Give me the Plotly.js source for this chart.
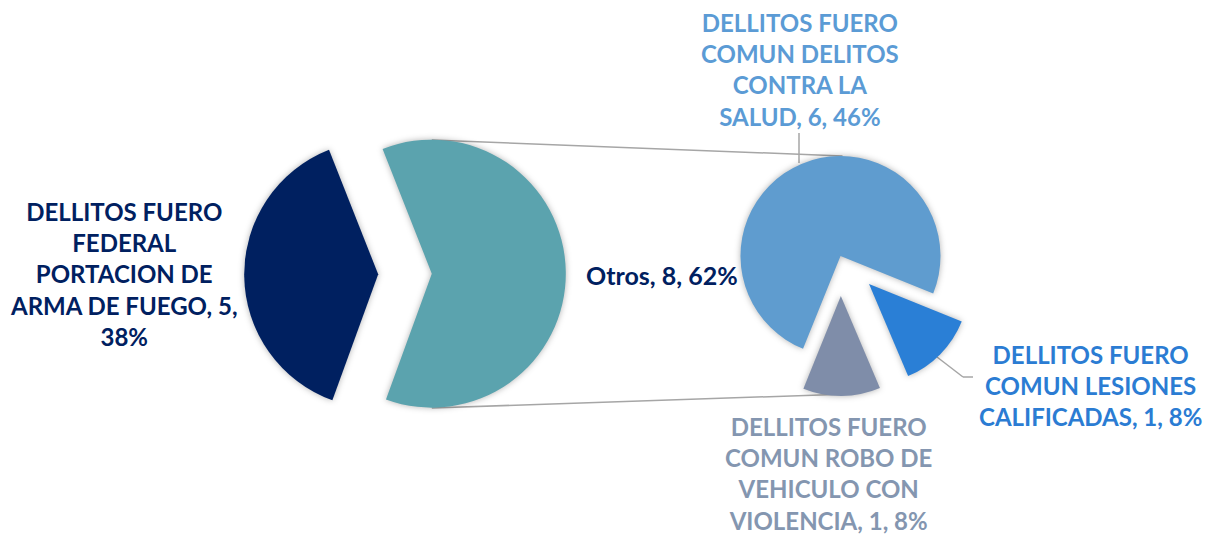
<!DOCTYPE html>
<html>
<head>
<meta charset="utf-8">
<script src="https://cdn.plot.ly/plotly-3.0.1.min.js"></script>
<style>
  html, body { margin: 0; padding: 0; background: #ffffff; }
  #chart { width: 1211px; height: 535px; }
  .slice path.surface { filter: drop-shadow(0px 0px 3px rgba(0,0,0,0.30)); }
</style>
</head>
<body>
<div id="chart"></div>
<script>
// ---- data ----
const primaryLabels = ["DELLITOS FUERO FEDERAL PORTACION DE ARMA DE FUEGO", "Otros"];
const primaryValues = [5, 8];
const secondaryLabels = [
  "DELLITOS FUERO COMUN DELITOS CONTRA LA SALUD",
  "DELLITOS FUERO COMUN LESIONES CALIFICADAS",
  "DELLITOS FUERO COMUN ROBO DE VEHICULO CON VIOLENCIA"
];
const secondaryValues = [6, 1, 1];

// ---- styling / layout ----
const W = 1211, H = 535;
const primaryColors = ["#002060", "#5BA3AE"];
const secondaryColors = ["#5F9CCF", "#2A7FD6", "#7F8DA9"];
const labelColors = { fed: "#002060", otros: "#002060", salud: "#5B9BD5", les: "#2B7CD3", robo: "#8496B0" };
const FONT = "Lato, 'Open Sans', sans-serif";
const FS = 24;

const total = primaryValues.reduce((a, b) => a + b, 0);
const pct = v => Math.round(100 * v / total) + "%";

// pie geometry (pixels)
const p1 = { cx: 405, cy: 274, r: 134, pull: 0.2 };
const p2 = { cx: 840.5, cy: 256, r: 100, pull: 0.4 };
const px = x => x / W;
const py = y => 1 - y / H;
function domainFor(p) {
  const half = p.r * (1 + p.pull);
  return { x: [px(p.cx - half), px(p.cx + half)], y: [py(p.cy + half), py(p.cy - half)] };
}

const traces = [
  {
    type: "pie", values: primaryValues, labels: primaryLabels, sort: false,
    direction: "clockwise", rotation: -160, pull: [p1.pull, p1.pull],
    marker: { colors: primaryColors, line: { width: 0 } },
    textinfo: "none", hoverinfo: "label+value+percent", domain: domainFor(p1), showlegend: false
  },
  {
    type: "pie", values: secondaryValues, labels: secondaryLabels, sort: false,
    direction: "clockwise", rotation: -158, pull: [0, p2.pull, p2.pull],
    marker: { colors: secondaryColors, line: { width: 0 } },
    textinfo: "none", hoverinfo: "label+value+percent", domain: domainFor(p2), showlegend: false
  }
];

const ann = (text, x, y, color, size) => ({
  text: text, x: px(x), y: py(y), xref: "paper", yref: "paper",
  xanchor: "center", yanchor: "middle", align: "center", showarrow: false,
  font: { family: FONT, size: size || FS, color: color, weight: 700 }
});

const annotations = [
  ann("DELLITOS FUERO<br>FEDERAL<br>PORTACION DE<br>ARMA DE FUEGO, " + primaryValues[0] + ",<br>" + pct(primaryValues[0]),
      124, 274, labelColors.fed),
  ann(primaryLabels[1] + ", " + primaryValues[1] + ", " + pct(primaryValues[1]), 662, 275, labelColors.otros, 25),
  ann("DELLITOS FUERO<br>COMUN DELITOS<br>CONTRA LA<br>SALUD, " + secondaryValues[0] + ", " + pct(secondaryValues[0]),
      800, 69, labelColors.salud),
  ann("DELLITOS FUERO<br>COMUN LESIONES<br>CALIFICADAS, " + secondaryValues[1] + ", " + pct(secondaryValues[1]),
      1090, 385, labelColors.les),
  ann("DELLITOS FUERO<br>COMUN ROBO DE<br>VEHICULO CON<br>VIOLENCIA, " + secondaryValues[2] + ", " + pct(secondaryValues[2]),
      828, 473, labelColors.robo)
];

// connector lines from primary "Otros" slice to secondary pie
const otrosCx = p1.cx + p1.pull * p1.r;
const roboAngle = 179.5 * Math.PI / 180;
const roboCx = p2.cx + p2.pull * p2.r * Math.sin(roboAngle);
const roboCy = p2.cy - p2.pull * p2.r * Math.cos(roboAngle);
const lineStyle = { color: "#A6A6A6", width: 1.5 };
const seg = (x0, y0, x1, y1) => ({ type: "line", xref: "paper", yref: "paper",
  x0: px(x0), y0: py(y0), x1: px(x1), y1: py(y1), line: lineStyle, layer: "below" });
const shapes = [
  seg(otrosCx, p1.cy - p1.r, p2.cx + 2, p2.cy - p2.r),
  seg(otrosCx, p1.cy + p1.r, roboCx + 8, roboCy + p2.r - 2),
  // leader lines
  seg(799, 133, 799, 163),
  seg(937, 357, 963, 377),
  seg(963, 377, 973, 377)
];

const layout = {
  width: W, height: H,
  margin: { l: 0, r: 0, t: 0, b: 0 },
  paper_bgcolor: "#ffffff", plot_bgcolor: "#ffffff",
  showlegend: false,
  annotations: annotations,
  shapes: shapes
};

Plotly.newPlot("chart", traces, layout, { displayModeBar: false, staticPlot: true });
</script>
</body>
</html>
